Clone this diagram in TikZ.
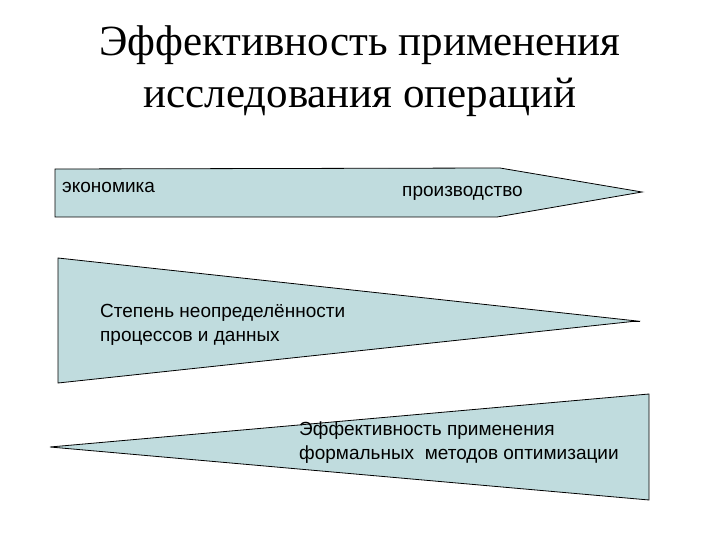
\documentclass[tikz,border=0pt]{standalone}
\usepackage{fontspec}
\setmainfont{Liberation Serif}
\newfontfamily\arialf{Liberation Sans}
\begin{document}
\begin{tikzpicture}[x=1pt,y=-1pt,
  shp/.style={draw=black,line width=0.8pt,fill={rgb,255:red,192;green,220;blue,222}},
  lbl/.style={font=\arialf\fontsize{19}{24}\selectfont,align=left,anchor=west,inner sep=0pt},
  ttl/.style={font=\fontsize{43}{52}\selectfont,align=center,inner sep=0pt}]
\useasboundingbox (0,0) rectangle (720,540);
\node[ttl] (title) at (360,71) {Эффективность применения\\исследования операций};
\draw[shp] (55,169) -- (500,168) -- (642,192) -- (497,217) -- (55,217) -- cycle;
\node[lbl] (econ) at (62,187) {экономика};
\node[lbl] (prod) at (402,193) {производство};
\draw[shp] (58,258) -- (637,321) -- (58,383) -- cycle;
\draw[line width=0.8pt] (630,321) -- (640,321);
\node[lbl] (unc) at (100,325) {Степень неопределённости\\процессов и данных};
\draw[shp] (649,394) -- (649,500) -- (50,447) -- cycle;
\node[lbl] (eff) at (299,443) {Эффективность применения\\формальных\ \ методов оптимизации};
\end{tikzpicture}
\end{document}
